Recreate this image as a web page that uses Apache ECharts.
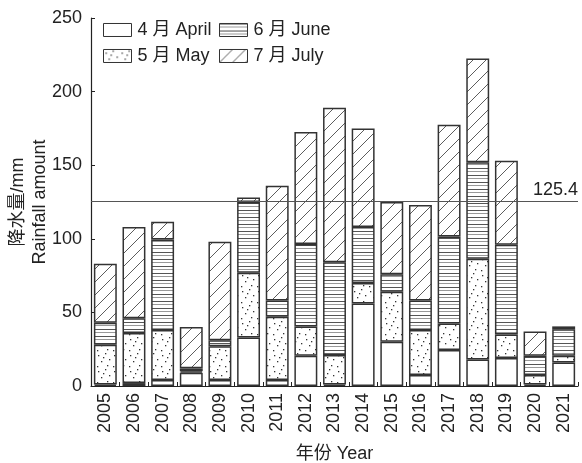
<!DOCTYPE html>
<html>
<head>
<meta charset="utf-8">
<script src="https://cdn.jsdelivr.net/npm/echarts@6/dist/echarts.min.js"></script>
<style>
  html, body { margin: 0; padding: 0; background: #fff; }
  #myChart { width: 582px; height: 463px; }
</style>
</head>
<body>
<div id="myChart"></div>
<script>
// 年份
var years = ['2005', '2006', '2007', '2008', '2009', '2010', '2011', '2012', '2013',
    '2014', '2015', '2016', '2017', '2018', '2019', '2020', '2021'];
// 各月降水量 (mm)
var aprilData = [1, 2, 4, 9, 4, 33, 4, 20.5, 1, 56, 30, 7.5, 24.5, 18, 19, 1, 16];
var mayData = [27, 34, 34, 1, 23, 44, 43, 20, 20, 14, 34, 30.5, 18, 68.5, 16, 6.5, 4.5];
var juneData = [15, 10, 61.5, 2, 4, 48, 11, 56, 63, 38, 12, 20, 59, 65.5, 61, 13, 18];
var julyData = [40, 62, 12, 28, 67, 3, 78, 76, 105, 67, 49, 65, 76, 70.5, 57, 16.5, 2];
var meanLine = 125.4;
var yTicks = [0, 50, 100, 150, 200, 250];

var font = '"Liberation Sans", Arial, "Noto Sans CJK SC", sans-serif';

function makePattern(w, h, draw) {
    var c = document.createElement('canvas');
    c.width = w; c.height = h;
    var ctx = c.getContext('2d');
    ctx.fillStyle = '#fff';
    ctx.fillRect(0, 0, w, h);
    draw(ctx);
    return { image: c, repeat: 'repeat' };
}

// 点状 (5月)
var dotPattern = makePattern(16, 16, function (ctx) {
    ctx.fillStyle = '#333';
    var pts = [[2, 3], [9, 1], [13, 7], [5, 9], [11, 13], [1, 14], [7, 5]];
    pts.forEach(function (p) { ctx.fillRect(p[0], p[1], 1.3, 1.3); });
});
// 横线 (6月)
var hLinePattern = makePattern(8, 7, function (ctx) {
    ctx.fillStyle = '#555';
    ctx.fillRect(0, 0, 8, 1);
    ctx.fillStyle = '#999';
    ctx.fillRect(0, 3, 8, 1);
});
// 斜线 (7月)
var diagPattern = makePattern(13, 13, function (ctx) {
    ctx.strokeStyle = '#333';
    ctx.lineWidth = 0.8;
    ctx.beginPath();
    ctx.moveTo(-1, 14); ctx.lineTo(14, -1);
    ctx.stroke();
});

function barSeries(name, data, fill) {
    return {
        name: name,
        type: 'bar',
        stack: 'total',
        barWidth: '80%',
        data: data,
        itemStyle: { color: fill, borderColor: '#333', borderWidth: 1.5 },
        emphasis: { disabled: true }
    };
}

var myChart = echarts.init(document.getElementById('myChart'));
var series = [
    barSeries('4 月 April', aprilData, '#fff'),
    barSeries('5 月 May', mayData, dotPattern),
    barSeries('6 月 June', juneData, hLinePattern),
    barSeries('7 月 July', julyData, diagPattern)
];
series[3].markLine = {
    silent: true,
    symbol: 'none',
    lineStyle: { color: '#555', width: 1, type: 'solid' },
    label: { position: 'insideEndTop', formatter: String(meanLine), color: '#222', fontSize: 18, fontFamily: font, distance: [0, 2] },
    data: [{ yAxis: meanLine }]
};

var legendCommon = {
    orient: 'vertical',
    top: 16,
    itemWidth: 28,
    itemHeight: 13,
    itemGap: 8,
    selectedMode: false,
    icon: 'rect',
    itemStyle: { borderColor: '#333', borderWidth: 1 },
    textStyle: { fontSize: 18, color: '#222', fontFamily: font, padding: [0, 0, 0, 1] }
};

var option = {
    animation: false,
    grid: { left: 91, right: 4, top: 18, bottom: 77, outerBoundsMode: 'none' },
    legend: [
        Object.assign({}, legendCommon, { left: 98, data: ['4 月 April', '5 月 May'] }),
        Object.assign({}, legendCommon, { left: 214, data: ['6 月 June', '7 月 July'] })
    ],
    xAxis: {
        type: 'category',
        data: years,
        name: '年份 Year',
        nameLocation: 'middle',
        nameGap: 59,
        nameMoveOverlap: false,
        nameTextStyle: { fontSize: 18, color: '#222', fontFamily: font },
        axisLine: { lineStyle: { color: '#222', width: 1.2 } },
        axisTick: { show: true, inside: true, length: 4, lineStyle: { color: '#222' } },
        axisLabel: { rotate: 90, fontSize: 18, color: '#222', fontFamily: font, margin: 7 }
    },
    yAxis: {
        type: 'value',
        min: yTicks[0],
        max: yTicks[yTicks.length - 1],
        interval: yTicks[1] - yTicks[0],
        name: '降水量/mm\nRainfall amount',
        nameLocation: 'middle',
        nameGap: 40,
        nameMoveOverlap: false,
        nameRotate: 90,
        nameTextStyle: { fontSize: 18, color: '#222', fontFamily: font, lineHeight: 22 },
        axisLine: { show: true, lineStyle: { color: '#222', width: 1.2 } },
        axisTick: { show: true, inside: true, length: 4, lineStyle: { color: '#222' } },
        splitLine: { show: false },
        axisLabel: { fontSize: 18, color: '#222', fontFamily: font, margin: 9 }
    },
    series: series
};
myChart.setOption(option);
</script>
</body>
</html>
